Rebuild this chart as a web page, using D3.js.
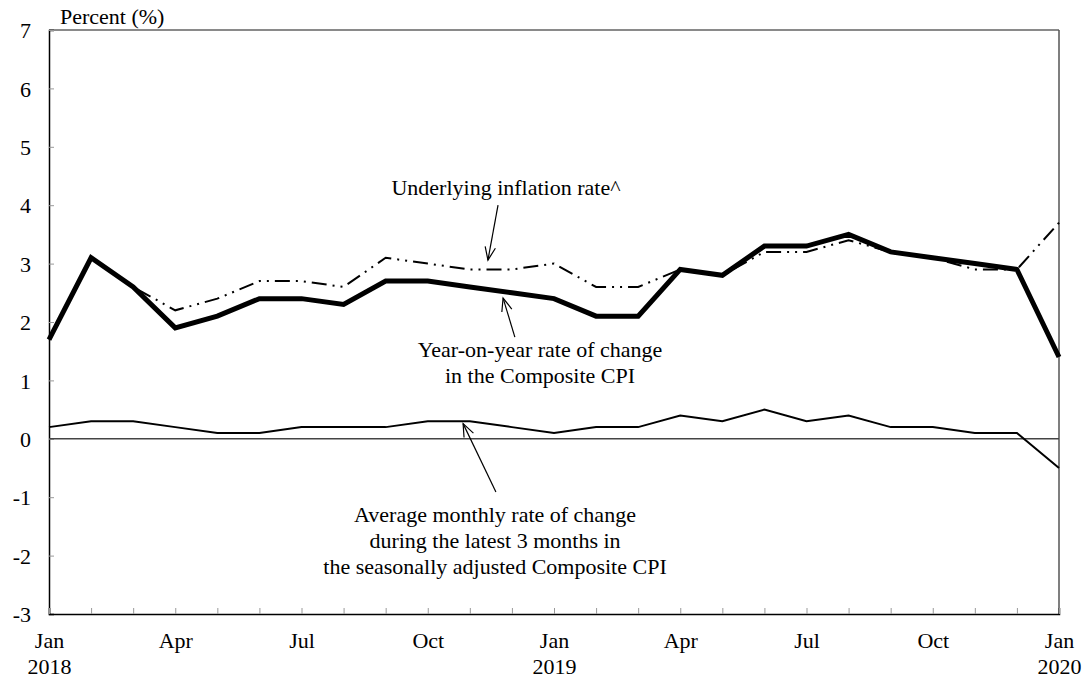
<!DOCTYPE html>
<html>
<head>
<meta charset="utf-8">
<script src="https://cdn.jsdelivr.net/npm/d3@7"></script>
<style>
  body { margin: 0; background: #fff; }
  text { font-family: "Liberation Serif", "Times New Roman", serif; fill: #000; }
</style>
</head>
<body>
<div id="vis"></div>
<script>
// Datos: Ene 2018 - Ene 2020 (25 meses)
const months = ["Jan","Feb","Mar","Apr","May","Jun","Jul","Aug","Sep","Oct","Nov","Dec",
                "Jan","Feb","Mar","Apr","May","Jun","Jul","Aug","Sep","Oct","Nov","Dec","Jan"];
const tickLabels = ["Jan", "", "", "Apr", "", "", "Jul", "", "", "Oct", "", "",
                    "Jan", "", "", "Apr", "", "", "Jul", "", "", "Oct", "", "", "Jan"];
const yearLabels = { 0: "2018", 12: "2019", 24: "2020" };

const compositeYoY = [1.7, 3.1, 2.6, 1.9, 2.1, 2.4, 2.4, 2.3, 2.7, 2.7, 2.6, 2.5,
                      2.4, 2.1, 2.1, 2.9, 2.8, 3.3, 3.3, 3.5, 3.2, 3.1, 3.0, 2.9, 1.4];
const underlying   = [1.7, 3.1, 2.6, 2.2, 2.4, 2.7, 2.7, 2.6, 3.1, 3.0, 2.9, 2.9,
                      3.0, 2.6, 2.6, 2.9, 2.8, 3.2, 3.2, 3.4, 3.2, 3.1, 2.9, 2.9, 3.7];
const avgMonthly   = [0.2, 0.3, 0.3, 0.2, 0.1, 0.1, 0.2, 0.2, 0.2, 0.3, 0.3, 0.2,
                      0.1, 0.2, 0.2, 0.4, 0.3, 0.5, 0.3, 0.4, 0.2, 0.2, 0.1, 0.1, -0.5];
const yTicks = [-3, -2, -1, 0, 1, 2, 3, 4, 5, 6, 7];

const WIDTH = 1086, HEIGHT = 678;
const margin = { top: 30, right: 27, bottom: 64, left: 49 };
const width = WIDTH - margin.left - margin.right;
const height = HEIGHT - margin.top - margin.bottom;

const svg = d3.select("#vis").append("svg")
    .attr("width", WIDTH)
    .attr("height", HEIGHT);

const g = svg.append("g")
    .attr("transform", `translate(${margin.left}, ${margin.top})`);

// Escalas
const x = d3.scaleLinear().domain([0, months.length - 1]).range([0, width]);
const y = d3.scaleLinear().domain([-3, 7]).range([height, 0]);

// Marco: arriba y derecha en gris
g.append("line").attr("x1", 0).attr("x2", width).attr("y1", 0).attr("y2", 0)
    .attr("stroke", "#8a8a8a").attr("stroke-width", 2);
g.append("line").attr("x1", width).attr("x2", width).attr("y1", 0).attr("y2", height)
    .attr("stroke", "#555").attr("stroke-width", 1.5);

// Eje Y (guion simple en los negativos, como el original)
const yAxis = g.append("g")
    .call(d3.axisLeft(y).tickValues(yTicks).tickSize(-5).tickPadding(18).tickFormat(d => String(d)));
yAxis.select(".domain").attr("stroke", "#000").attr("stroke-width", 1.5);
yAxis.selectAll(".tick line").attr("stroke", "#999");
yAxis.selectAll(".tick text")
    .style("font-family", "Liberation Serif, Times New Roman, serif")
    .style("font-size", "22px")
    .attr("dy", "0.35em");

// Eje X
const xAxis = g.append("g")
    .attr("transform", `translate(0, ${height})`)
    .call(d3.axisBottom(x).tickValues(d3.range(months.length))
        .tickSize(-6).tickFormat(""));
xAxis.select(".domain").attr("stroke", "#000").attr("stroke-width", 1.5);
xAxis.selectAll(".tick line").attr("stroke", "#999");

xAxis.selectAll(".tick")
    .append("text")
    .attr("y", 34)
    .attr("text-anchor", "middle")
    .style("font-size", "22px")
    .text((d, i) => tickLabels[i]);

xAxis.selectAll(".tick")
    .filter(d => d in yearLabels)
    .append("text")
    .attr("y", 60)
    .attr("text-anchor", "middle")
    .style("font-size", "22px")
    .text(d => yearLabels[d]);

// Título del eje
svg.append("text")
    .attr("x", 60)
    .attr("y", 24)
    .style("font-size", "22px")
    .text("Percent (%)");

// Línea cero
g.append("line")
    .attr("x1", 0).attr("x2", width)
    .attr("y1", y(0)).attr("y2", y(0))
    .attr("stroke", "#444").attr("stroke-width", 1.5);

const line = d3.line().x((d, i) => x(i)).y(d => y(d));

g.append("path")
    .datum(avgMonthly)
    .attr("d", line)
    .attr("fill", "none")
    .attr("stroke", "#000")
    .attr("stroke-width", 2);

g.append("path")
    .datum(underlying)
    .attr("d", line)
    .attr("fill", "none")
    .attr("stroke", "#000")
    .attr("stroke-width", 2)
    .attr("stroke-dasharray", "15,6,2,6,2,6");

g.append("path")
    .datum(compositeYoY)
    .attr("d", line)
    .attr("fill", "none")
    .attr("stroke", "#000")
    .attr("stroke-width", 5)
    .attr("stroke-linejoin", "miter");

// Flechas de anotación (en unidades de datos)
function arrow(from, to) {
    const x1 = x(from[0]), y1 = y(from[1]), x2 = x(to[0]), y2 = y(to[1]);
    const ang = Math.atan2(y2 - y1, x2 - x1);
    const len = 14, spread = 0.38;
    g.append("line")
        .attr("x1", x1).attr("y1", y1).attr("x2", x2).attr("y2", y2)
        .attr("stroke", "#000").attr("stroke-width", 1.2);
    g.append("path")
        .attr("d", `M${x2 - len * Math.cos(ang - spread)},${y2 - len * Math.sin(ang - spread)}` +
                   `L${x2},${y2}` +
                   `L${x2 - len * Math.cos(ang + spread)},${y2 - len * Math.sin(ang + spread)}`)
        .attr("fill", "none").attr("stroke", "#000").attr("stroke-width", 1.2);
}

arrow([10.67, 4.0], [10.43, 3.06]);
arrow([11.07, 1.74], [10.79, 2.41]);
arrow([10.62, -0.91], [9.84, 0.26]);

// Textos de anotación
function label(cx, baseline, lines) {
    const t = svg.append("text")
        .attr("text-anchor", "middle")
        .style("font-size", "22px");
    lines.forEach((s, i) => {
        t.append("tspan").attr("x", cx).attr("y", baseline + i * 26).text(s);
    });
}

label(506, 195, ["Underlying inflation rate^"]);
label(540, 357, ["Year-on-year rate of change", "in the Composite CPI"]);
label(495, 522, ["Average monthly rate of change", "during the latest 3 months in",
                 "the seasonally adjusted Composite CPI"]);
</script>
</body>
</html>
